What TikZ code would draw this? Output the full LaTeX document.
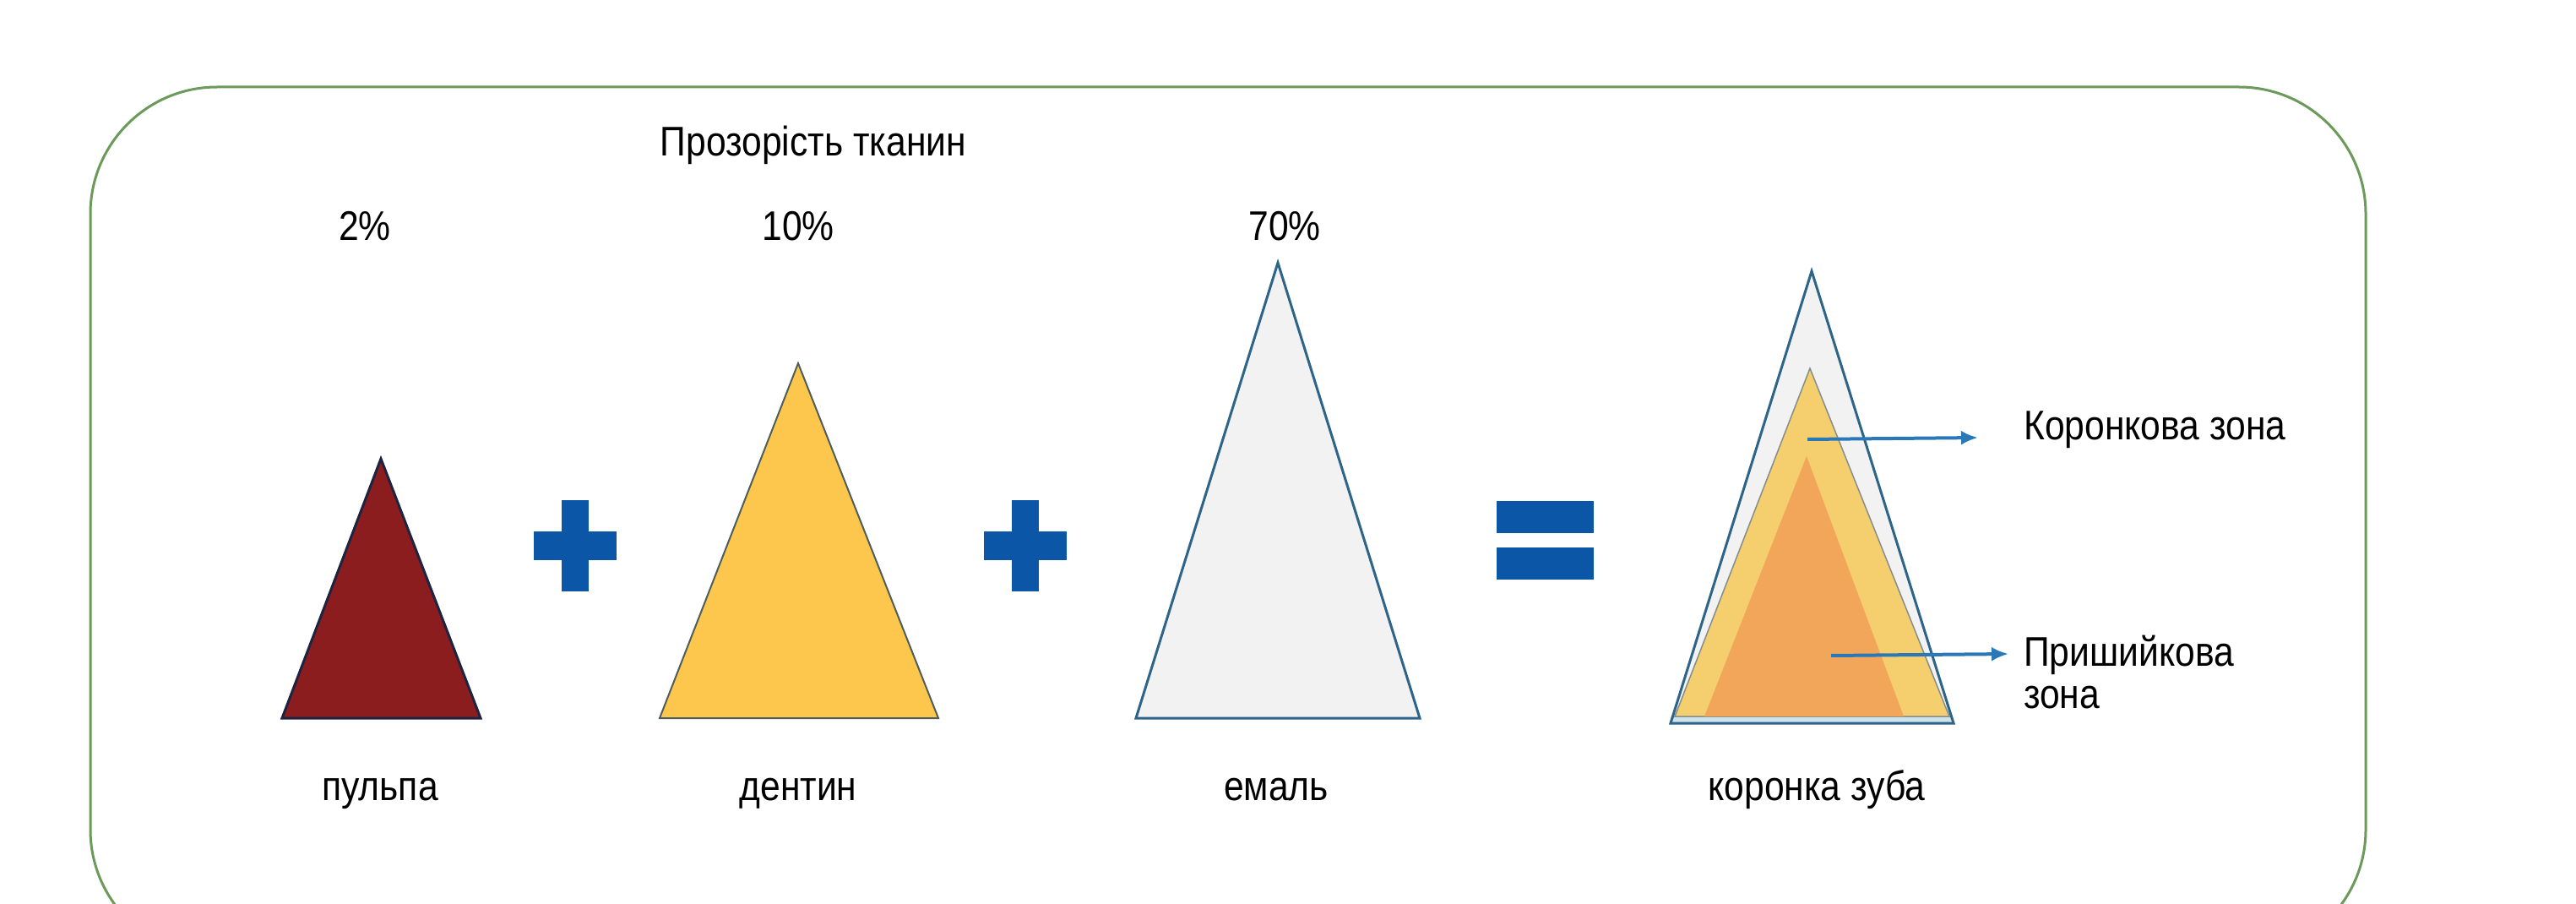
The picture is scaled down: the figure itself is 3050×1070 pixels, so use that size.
\documentclass[tikz,border=0pt]{standalone}
\usepackage{fontspec}
\setmainfont[FakeStretch=0.87]{Liberation Sans}
\usetikzlibrary{arrows.meta}
\definecolor{frameg}{HTML}{6B9A5B}
\definecolor{pulpc}{HTML}{8C1D1E}
\definecolor{pulpe}{HTML}{1E2440}
\definecolor{dentc}{HTML}{FDC64C}
\definecolor{dente}{HTML}{4E5E5C}
\definecolor{enamc}{HTML}{F2F2F3}
\definecolor{aname}{HTML}{2D6487}
\definecolor{signc}{HTML}{0B56A6}
\definecolor{crdent}{HTML}{F5CE6E}
\definecolor{crorng}{HTML}{F1A65A}
\definecolor{crband}{HTML}{CFE3EC}
\definecolor{arrc}{HTML}{2A78B8}
\tikzset{
  lbl/.style={font=\fontsize{49}{58}\selectfont, inner sep=0pt, text=black},
  framebox/.style={draw=frameg, line width=3pt, rounded corners=150pt},
  signbar/.style={fill=signc, draw=none},
  zarrow/.style={draw=arrc, line width=4pt, -{Latex[length=20pt,width=17pt]}},
}
\begin{document}
\begin{tikzpicture}[x=1pt,y=-1pt]
\useasboundingbox (0,0) rectangle (3050,1070);
\clip (0,0) rectangle (3050,1070);
\fill[white] (0,0) rectangle (3050,1070);
% frame
\draw[framebox] (107,103) rectangle (2801,1132);

% pulp
\filldraw[fill=pulpc, draw=pulpe, line width=3pt, line join=miter] (451,543) -- (569,850) -- (334,850) -- cycle;
% dentin
\filldraw[fill=dentc, draw=dente, line width=2pt] (945,430) -- (1111,850) -- (781,850) -- cycle;
% enamel
\filldraw[fill=enamc, draw=aname, line width=3pt] (1513,311) -- (1681,850) -- (1345,850) -- cycle;

% plus signs
\fill[signbar] (632,629) rectangle (730,663);
\fill[signbar] (665,592) rectangle (697,700);
\fill[signbar] (1165,629) rectangle (1263,663);
\fill[signbar] (1198,592) rectangle (1230,700);
% equals
\fill[signbar] (1772,593) rectangle (1887,631);
\fill[signbar] (1772,648) rectangle (1887,686);

% crown composite
\fill[enamc] (2145,321) -- (2313,856) -- (1978,856) -- cycle;
\fill[crband] (1981,848) rectangle (2310,856);
\filldraw[fill=crdent, draw=dente!70, line width=1.5pt] (2143,436) -- (2308,848) -- (1983,848) -- cycle;
\fill[crorng] (2139,540) -- (2254,848) -- (2018,848) -- cycle;
\draw[aname, line width=3pt] (2145,321) -- (2313,856) -- (1978,856) -- cycle;

% labels
\node[lbl, anchor=base] (title) at (963,185) {Прозорість тканин};
\node[lbl, anchor=base] (p1) at (432,284) {2\%};
\node[lbl, anchor=base] (p2) at (945,284) {10\%};
\node[lbl, anchor=base] (p3) at (1521,284) {70\%};
\node[lbl, anchor=base] (n1) at (450,947) {пульпа};
\node[lbl, anchor=base] (n2) at (945,947) {дентин};
\node[lbl, anchor=base] (n3) at (1511,947) {емаль};
\node[lbl, anchor=base] (n4) at (2151,947) {коронка зуба};
\node[lbl, anchor=base west] (kz) at (2396,520) {Коронкова зона};
\node[lbl, anchor=base west, align=left] (pz) at (2396,788) {Пришийкова};
\node[lbl, anchor=base west] (pz2) at (2396,838) {зона};

% arrows
\coordinate (a1s) at (2140,520);
\coordinate (a1e) at (2342,518);
\coordinate (a2s) at (2168,776);
\coordinate (a2e) at (2378,774);
\draw[zarrow] (a1s) -- (a1e);
\draw[zarrow] (a2s) -- (a2e);
\end{tikzpicture}
\end{document}
